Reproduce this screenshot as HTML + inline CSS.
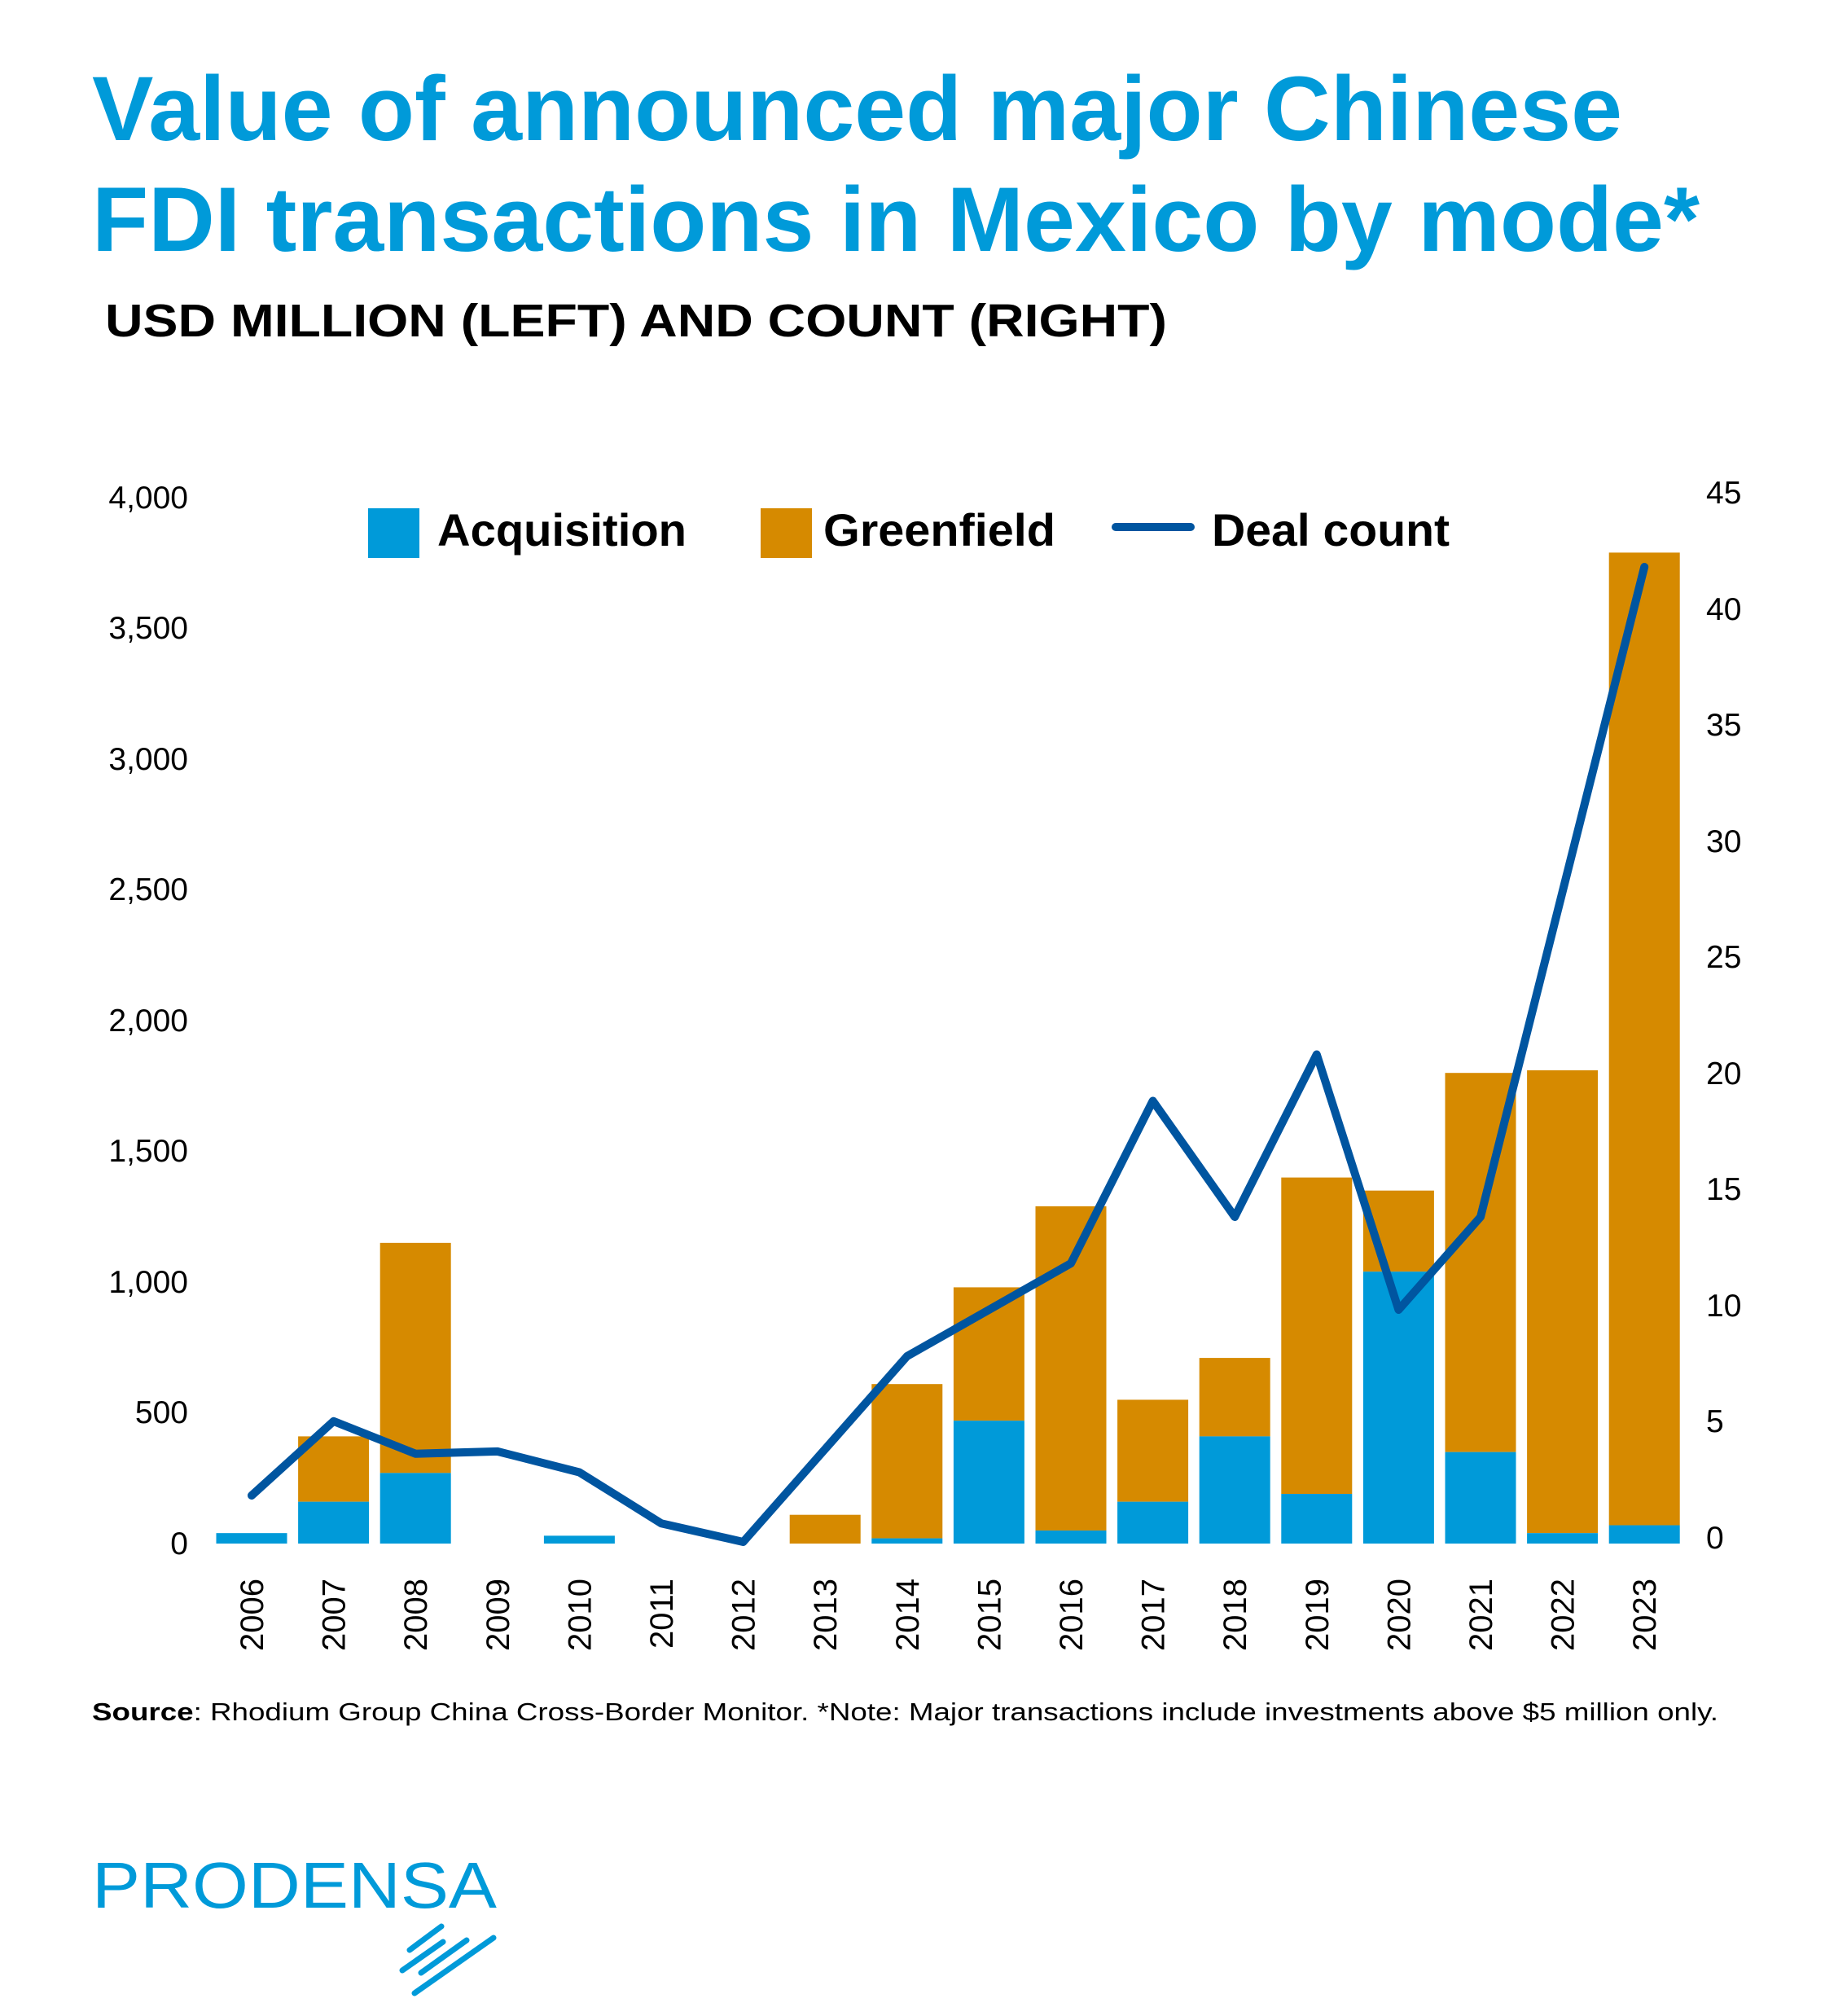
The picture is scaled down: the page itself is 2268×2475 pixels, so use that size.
<!DOCTYPE html>
<html><head><meta charset="utf-8"><style>
html,body{margin:0;padding:0;background:#fff}
svg{display:block}
text{font-family:"Liberation Sans",sans-serif}
</style></head><body>
<svg width="2268" height="2475" viewBox="0 0 2268 2475" xmlns="http://www.w3.org/2000/svg">
<rect width="2268" height="2475" fill="#fff"/>
<text x="113" y="172" font-size="112" font-weight="bold" fill="#009ad9" textLength="1879" lengthAdjust="spacingAndGlyphs">Value of announced major Chinese</text>
<text x="113" y="308" font-size="112" font-weight="bold" fill="#009ad9" textLength="1974" lengthAdjust="spacingAndGlyphs">FDI transactions in Mexico by mode*</text>
<text x="129" y="413" font-size="57" font-weight="bold" fill="#000" textLength="1304" lengthAdjust="spacingAndGlyphs">USD MILLION (LEFT) AND COUNT (RIGHT)</text>

<rect x="452" y="624" width="63" height="61" fill="#009ad9"/>
<text x="537" y="670" font-size="56" font-weight="bold" textLength="306" lengthAdjust="spacingAndGlyphs">Acquisition</text>
<rect x="934" y="624" width="63" height="61" fill="#d68a00"/>
<text x="1011" y="670" font-size="56" font-weight="bold" textLength="285" lengthAdjust="spacingAndGlyphs">Greenfield</text>
<line x1="1370" y1="647" x2="1462" y2="647" stroke="#0055a0" stroke-width="10" stroke-linecap="round"/>
<text x="1488" y="670" font-size="56" font-weight="bold" textLength="292" lengthAdjust="spacingAndGlyphs">Deal count</text>

<g font-size="39" text-anchor="end" fill="#000">
<text x="231" y="1908">0</text>
<text x="231" y="1747">500</text>
<text x="231" y="1587">1,000</text>
<text x="231" y="1426">1,500</text>
<text x="231" y="1266">2,000</text>
<text x="231" y="1105">2,500</text>
<text x="231" y="945">3,000</text>
<text x="231" y="784">3,500</text>
<text x="231" y="624">4,000</text>
</g>
<g font-size="39" text-anchor="start" fill="#000">
<text x="2095" y="1901">0</text>
<text x="2095" y="1758">5</text>
<text x="2095" y="1616">10</text>
<text x="2095" y="1473">15</text>
<text x="2095" y="1331">20</text>
<text x="2095" y="1188">25</text>
<text x="2095" y="1046">30</text>
<text x="2095" y="903">35</text>
<text x="2095" y="761">40</text>
<text x="2095" y="618">45</text>
</g>

<g id="bars"></g>
<g id="xl" font-size="40" fill="#000"></g>
<polyline id="line" fill="none" stroke="#0055a0" stroke-width="10" stroke-linejoin="round" stroke-linecap="round"/>

<text x="113" y="2112" font-size="31" fill="#000" textLength="1997" lengthAdjust="spacingAndGlyphs"><tspan font-weight="bold">Source</tspan>: Rhodium Group China Cross-Border Monitor. *Note: Major transactions include investments above $5 million only.</text>

<text x="113" y="2342" font-size="80" fill="#009ad9" textLength="497" lengthAdjust="spacingAndGlyphs">PRODENSA</text>
<g stroke="#009ad9" stroke-width="7" stroke-linecap="round">
<line x1="503" y1="2394" x2="542" y2="2365"/>
<line x1="494" y1="2419" x2="544" y2="2384"/>
<line x1="517" y1="2422" x2="573" y2="2382"/>
<line x1="509" y1="2447" x2="606" y2="2379"/>
</g>
</svg>
<script>
var acq=[40,160,270,0,30,0,0,0,20,470,50,160,410,190,1040,350,40,70];
var tot=[40,410,1150,0,30,0,0,110,610,980,1290,550,710,1400,1350,1800,1810,3790];
var cnt=[2,5.2,3.8,3.9,3,0.8,0,4,8,10,12,19,14,21,10,14,28,42];
var NS="http://www.w3.org/2000/svg",b=document.getElementById('bars'),xl=document.getElementById('xl'),pts=[];
var base=1895,k=0.321,w=87;
for(var i=0;i<18;i++){
 var cx=309+i*100.6;
 if(tot[i]>acq[i]){var r=document.createElementNS(NS,'rect');r.setAttribute('x',cx-w/2);r.setAttribute('width',w);r.setAttribute('y',base-tot[i]*k);r.setAttribute('height',(tot[i]-acq[i])*k);r.setAttribute('fill','#d68a00');b.appendChild(r);}
 if(acq[i]>0){var r=document.createElementNS(NS,'rect');r.setAttribute('x',cx-w/2);r.setAttribute('width',w);r.setAttribute('y',base-acq[i]*k);r.setAttribute('height',acq[i]*k);r.setAttribute('fill','#009ad9');b.appendChild(r);}
 var t=document.createElementNS(NS,'text');t.setAttribute('transform','translate('+(cx+14)+',1938) rotate(-90)');t.setAttribute('text-anchor','end');t.textContent=2006+i;xl.appendChild(t);
 pts.push(cx+','+(1893-cnt[i]*28.5));
}
document.getElementById('line').setAttribute('points',pts.join(' '));
</script>
</body></html>
